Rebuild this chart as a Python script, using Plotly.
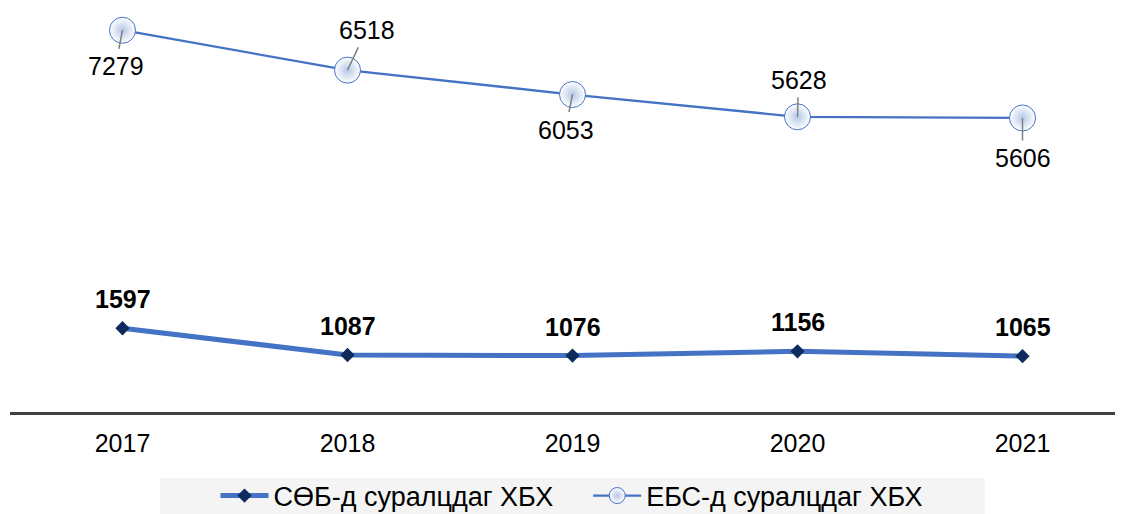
import plotly.graph_objects as go

years = ["2017", "2018", "2019", "2020", "2021"]
sob = [1597, 1087, 1076, 1156, 1065]
ebs = [7279, 6518, 6053, 5628, 5606]
sob_name = "СӨБ-д суралцдаг ХБХ"
ebs_name = "ЕБС-д суралцдаг ХБХ"
# label offsets (px) for ЕБС leader-line labels
ebs_ax = [-7, 19, -7, 1, 0]
ebs_ay = [36, -40, 35, -37, 40]

FONT = "Liberation Sans, Arial, sans-serif"
W, H = 1123, 514
OFF = 8  # page body margin offset
ML, MR, MT = 2, 0, 0
plot_h = 412 - OFF
MB = H - MT - plot_h
plot_w = W - ML - MR
step = 225.0
PXU = 0.05245

fig = go.Figure()
fig.add_trace(go.Scatter(
    x=years, y=sob, name=sob_name + "\u00a0" * 4, mode="lines+markers",
    line=dict(color="#4472c4", width=5),
    marker=dict(symbol="diamond", size=11, color="#0f2a5c"),
    cliponaxis=False,
))
fig.add_trace(go.Scatter(
    x=years, y=ebs, name=ebs_name, mode="lines+markers",
    line=dict(color="#4472c4", width=2.3),
    marker=dict(symbol="circle", size=26, color="white",
                gradient=dict(type="radial", color="#b4c7e7"),
                line=dict(color="#4472c4", width=1)),
    cliponaxis=False,
))
for i, v in enumerate(sob):
    fig.add_annotation(x=i, y=v, xref="x", yref="y", text="<b>%d</b>" % v,
                       showarrow=False, yanchor="middle", yshift=29,
                       font=dict(family=FONT, size=25, color="black"))
for i, (v, ax, ay) in enumerate(zip(ebs, ebs_ax, ebs_ay)):
    fig.add_annotation(x=i, y=v, xref="x", yref="y", text=str(v),
                       showarrow=True, arrowhead=0,
                       arrowwidth=1.5, arrowcolor="#7f7f7f", ax=ax, ay=ay,
                       standoff=0, startstandoff=2,
                       font=dict(family=FONT, size=25, color="black"))


def px_x(page_x):
    return (page_x - OFF - ML) / plot_w


def px_y(page_y):
    return -(page_y - OFF - MT - plot_h) / plot_h


fig.add_shape(type="rect", xref="paper", yref="paper",
              x0=px_x(160), x1=px_x(985), y0=px_y(520), y1=px_y(478),
              fillcolor="#f4f4f4", line=dict(width=0), layer="below")

fig.update_layout(
    width=W, height=H,
    margin=dict(l=ML, r=MR, t=MT, b=MB, autoexpand=False),
    paper_bgcolor="white", plot_bgcolor="white",
    font=dict(family=FONT, size=20, color="black"),
    showlegend=True,
    legend=dict(orientation="h", x=px_x(572), xanchor="center",
                y=px_y(496), yanchor="middle",
                bgcolor="rgba(0,0,0,0)", font=dict(family=FONT, size=27, color="black"),
                itemwidth=48, tracegroupgap=0),
    xaxis=dict(type="category", range=[-0.5, -0.5 + plot_w / step], showgrid=False,
               showline=True, linecolor="#404040", linewidth=3,
               ticks="", tickfont=dict(family=FONT, size=25, color="black"),
               ticklabelstandoff=7, zeroline=False, fixedrange=True,
               automargin=False),
    yaxis=dict(range=[0, plot_h / PXU], showticklabels=False, showgrid=False,
               showline=False, ticks="", zeroline=False, fixedrange=True,
               automargin=False),
)

fig.write_html("out.html")
